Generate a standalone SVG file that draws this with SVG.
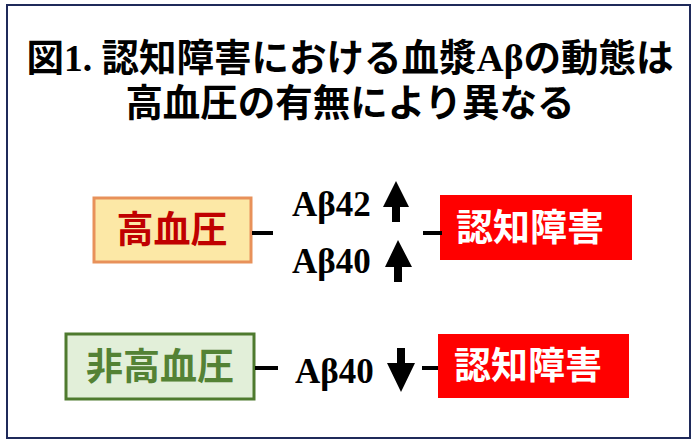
<svg xmlns="http://www.w3.org/2000/svg" width="700" height="446" viewBox="0 0 700 446">
<style>
.title{font-family:"Liberation Serif","Noto Sans CJK JP",serif;font-weight:bold;font-size:37.5px;fill:#000;text-anchor:middle}
.lbl{font-family:"Liberation Serif","Noto Sans CJK JP",serif;font-weight:bold;font-size:37px;text-anchor:middle}
.ab{font-family:"Liberation Serif",serif;font-weight:bold;font-size:35px;fill:#000}
.dash{stroke:#000;stroke-width:4}
.arr{fill:#000}
</style>
<rect x="0" y="0" width="700" height="446" fill="#fff"/>
<rect x="7" y="5" width="683" height="433" fill="#fff" stroke="#1F2A5A" stroke-width="2"/>
<g id="title">
<text class="title" x="350" y="71">図1. 認知障害における血漿Aβの動態は</text>
<text class="title" x="350" y="116">高血圧の有無により異なる</text>
</g>
<g id="node-htn">
<rect x="94" y="198" width="157" height="64" fill="#FCE8A6" stroke="#E8915A" stroke-width="3"/>
<text class="lbl" x="172" y="243" fill="#C00000">高血圧</text>
</g>
<g id="node-nonhtn">
<rect x="66" y="334" width="188" height="65" fill="#E2EFD9" stroke="#4E7A2E" stroke-width="3"/>
<text class="lbl" x="160" y="380" fill="#548235">非高血圧</text>
</g>
<g id="node-cog1">
<rect x="440" y="195" width="192" height="65" fill="#FF0000"/>
<text class="lbl" x="530" y="241" fill="#fff">認知障害</text>
</g>
<g id="node-cog2">
<rect x="438" y="334" width="191" height="64" fill="#FF0000"/>
<text class="lbl" x="528" y="379" fill="#fff">認知障害</text>
</g>
<g id="connectors">
<line class="dash" x1="252" y1="233" x2="273" y2="233"/>
<line class="dash" x1="423" y1="233" x2="442" y2="233"/>
<line class="dash" x1="255" y1="368" x2="278" y2="368"/>
<line class="dash" x1="422" y1="368" x2="438" y2="368"/>
<text class="ab" x="292" y="216">Aβ42</text>
<text class="ab" x="292" y="273">Aβ40</text>
<text class="ab" x="295" y="383">Aβ40</text>
<polygon class="arr" points="396,181 409,207 400,207 400,222 392,222 392,207 383,207"/>
<polygon class="arr" points="398,240 412,267 402,267 402,282 394,282 394,267 385,267"/>
<polygon class="arr" points="401,392 415,363 405,363 405,348 397,348 397,363 387,363"/>
</g>
</svg>
